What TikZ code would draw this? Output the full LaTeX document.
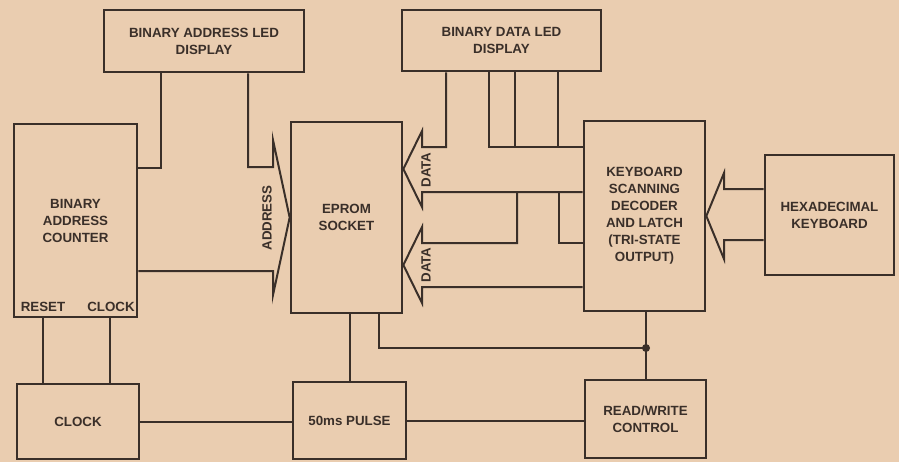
\documentclass[tikz,border=0pt]{standalone}
\usepackage{fontspec}
\setmainfont{Liberation Sans}
\usetikzlibrary{calc}
\definecolor{paperTan}{HTML}{EACDB0}
\definecolor{inkBrown}{HTML}{3A2F29}
\tikzset{
  blk/.style={draw=inkBrown, line width=2pt, align=center, inner sep=2pt},
  wire/.style={draw=inkBrown, line width=1.5pt},
  buslbl/.style={rotate=90, inner sep=1pt}
}
\begin{document}
\begin{tikzpicture}[x=0.75pt, y=-0.75pt, font=\fontsize{10}{12.75}\selectfont\bfseries, text=inkBrown]
    \fill[paperTan] (0,0) rectangle (899,462);
    \useasboundingbox (0,0) rectangle (899,462);
    % blocks
    \node[blk, minimum width=150pt, minimum height=46.5pt] (adisp) at (204,41) {BINARY ADDRESS LED\\DISPLAY};
    \node[blk, minimum width=149.25pt, minimum height=45.75pt] (ddisp) at (501.5,40.5) {BINARY DATA LED\\DISPLAY};
    \node[blk, minimum width=92.25pt, minimum height=144.75pt] (cnt) at (75.5,220.5) {BINARY\\ADDRESS\\COUNTER};
    \node[blk, minimum width=83.25pt, minimum height=143.25pt] (eprom) at (346.5,217.5) {EPROM\\SOCKET};
    \node[blk, minimum width=90.75pt, minimum height=142.5pt] (kbd) at (644.5,216) {KEYBOARD\\SCANNING\\DECODER\\AND LATCH\\(TRI-STATE\\OUTPUT)};
    \node[blk, minimum width=96.75pt, minimum height=90pt] (hex) at (829.5,215) {HEXADECIMAL\\KEYBOARD};
    \node[blk, minimum width=91.5pt, minimum height=56.25pt] (clk) at (78,421.5) {CLOCK};
    \node[blk, minimum width=84.75pt, minimum height=57.75pt] (pulse) at (349.5,420.5) {50ms PULSE};
    \node[blk, minimum width=90.75pt, minimum height=58.5pt] (rw) at (645.5,419) {READ/WRITE\\CONTROL};
    \node (rstlbl) at (43,307) {RESET};
    \node (clklbl) at (111,307) {CLOCK};
    % address bus
    \coordinate (aj) at (161,168);
    \draw[wire] (adisp.south -| aj) |- (cnt.east |- aj);
    \coordinate (abt) at (248,167);
    \coordinate (abb) at (273,271);
    \draw[wire] (adisp.south -| abt) -- (abt) -- (273,167) -- (273,140) -- (eprom.west)
      -- (273,295) -- (abb) -- (cnt.east |- abb);
    \node[buslbl] (addrlbl) at (267,218) {ADDRESS};
    % data buses
    \coordinate (d1t) at (446,147);
    \coordinate (d1b) at (422,192);
    \draw[wire] (ddisp.south -| d1t) -- (d1t) -- (422,147) -- (422,131) -- (eprom.east |- 0,169)
      -- (422,207) -- (d1b) -- (kbd.west |- d1b);
    \coordinate (bt) at (489,147);
    \draw[wire] (ddisp.south -| bt) -- (bt) -- (kbd.west |- bt);
    \foreach \x in {515,558}
      \draw[wire] (ddisp.south -| \x,0) -- (\x,147);
    \coordinate (d2t) at (517,243);
    \draw[wire] (517,192) -- (d2t) -- (422,243) -- (422,227) -- (eprom.east |- 0,265)
      -- (422,303) -- (422,287) -- (kbd.west |- 0,287);
    \draw[wire] (559,192) |- (kbd.west |- 0,243);
    \node[buslbl] (data1) at (426,170) {DATA};
    \node[buslbl] (data2) at (426,265) {DATA};
    % keyboard bus
    \draw[wire] (hex.west |- 0,189) -- (724,189) -- (724,173) -- (kbd.east |- 0,216)
      -- (724,259) -- (724,240) -- (hex.west |- 0,240);
    % control lines
    \foreach \x in {43,110}
      \draw[wire] (cnt.south -| \x,0) -- (clk.north -| \x,0);
    \draw[wire] (clk.east) -- (clk.east -| pulse.west);
    \draw[wire] (pulse.east) -- (pulse.east -| rw.west);
    \draw[wire] (pulse.north) -- (pulse.north |- eprom.south);
    \coordinate (jn) at (646,348);
    \draw[wire] (kbd.south -| jn) -- (rw.north -| jn);
    \draw[wire] (eprom.south -| 379,0) |- (jn);
    \fill[inkBrown] (jn) circle (3pt);
\end{tikzpicture}
\end{document}
